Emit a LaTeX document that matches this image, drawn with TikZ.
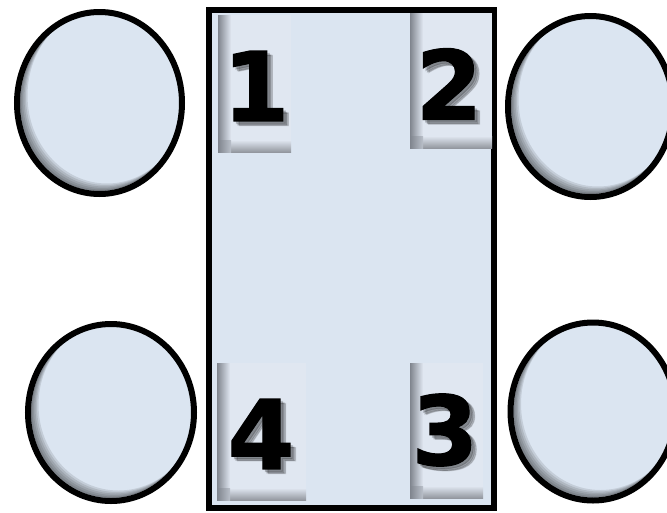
\documentclass[tikz,border=0pt]{standalone}
\usepackage{fontspec}
\newfontfamily\numfont{DejaVu Sans Bold}[FakeBold=1.2]
\usetikzlibrary{shapes.geometric,calc}
\definecolor{fillc}{HTML}{DBE5F1}
\definecolor{boxc}{HTML}{E0E7F1}
\definecolor{edgec}{HTML}{80858E}
\begin{document}
\begin{tikzpicture}[x=1pt,y=-1pt,
  wheel/.style={ellipse, draw=black, line width=6pt, fill=fillc, inner sep=0pt, outer sep=0pt},
  carbody/.style={rectangle, draw=black, line width=5.5pt, fill=fillc, inner sep=0pt, minimum width=285pt, minimum height=498pt},
  numbox/.style={rectangle, fill=boxc, inner sep=0pt, outer sep=0pt},
  numlabel/.style={inner sep=0pt, font=\numfont\fontsize{96}{96}\selectfont, text=black},
  numshadow/.style={inner sep=0pt, font=\numfont\fontsize{96}{96}\selectfont, text=black, opacity=0.16}
]
\useasboundingbox (0,0) rectangle (667,512);
\fill[white] (0,0) rectangle (667,512);

% wheels
\node[wheel, minimum width=165pt, minimum height=182pt] (w1) at (99.5,103) {};
\node[wheel, minimum width=165pt, minimum height=181pt] (w2) at (590.5,106.5) {};
\node[wheel, minimum width=166pt, minimum height=177pt] (w4) at (111,412.5) {};
\node[wheel, minimum width=165pt, minimum height=178pt] (w3) at (593,411.5) {};

% inner shadows of wheels
\foreach \w/\rx/\ry in {w1/79.5/88, w2/79.5/87.5, w4/80/85.5, w3/79.5/86}{
  \begin{scope}
    \clip (\w.center) ellipse [x radius=\rx, y radius=\ry];
    \foreach \s in {1.5,3,4.5,6,7.5}{
      \fill[black, opacity=0.1, even odd rule]
        ($(\w.center)+(-120,-120)$) rectangle ($(\w.center)+(120,120)$)
        ($(\w.center)+(\s,-\s)$) ellipse [x radius=\rx, y radius=\ry];
    }
  \end{scope}
}

% body
\node[carbody] (car) at (351.5,259) {};

% number boxes
\node[numbox, minimum width=73pt, minimum height=137pt] (b1) at (254.5,83.5) {};
\node[numbox, minimum width=82pt, minimum height=135pt] (b2) at (451,80.5) {};
\node[numbox, minimum width=89pt, minimum height=137pt] (b4) at (261.5,431.5) {};
\node[numbox, minimum width=73pt, minimum height=135pt] (b3) at (446.5,430.5) {};
% shaded edges of the boxes
\foreach \b in {b1,b2,b3,b4}{
  \shade[left color=edgec, right color=boxc] (\b.north west) rectangle ($(\b.south west)+(13,0)$);
  \shade[bottom color=edgec!85, top color=boxc] ($(\b.south west)+(0,-12)$) rectangle (\b.south east);
  \shade[left color=edgec, right color=edgec!40!boxc] ($(\b.south west)+(0,-12)$) rectangle ($(\b.south west)+(13,0)$);
}

% number shadows
\foreach \dx/\dy in {2.5/2.5,4/4,5.5/4.5}{
  \node[numshadow] at ($(256,86)+(\dx,\dy)$) {1};
  \node[numshadow] at ($(449,84)+(\dx,\dy)$) {2};
  \node[numshadow] at ($(261,434)+(\dx,\dy)$) {4};
  \node[numshadow] at ($(445,430)+(\dx,\dy)$) {3};
}
% numbers
\node[numlabel] (n1) at (256,86) {1};
\node[numlabel] (n2) at (449,84) {2};
\node[numlabel] (n4) at (261,434) {4};
\node[numlabel] (n3) at (445,430) {3};
\end{tikzpicture}
\end{document}
